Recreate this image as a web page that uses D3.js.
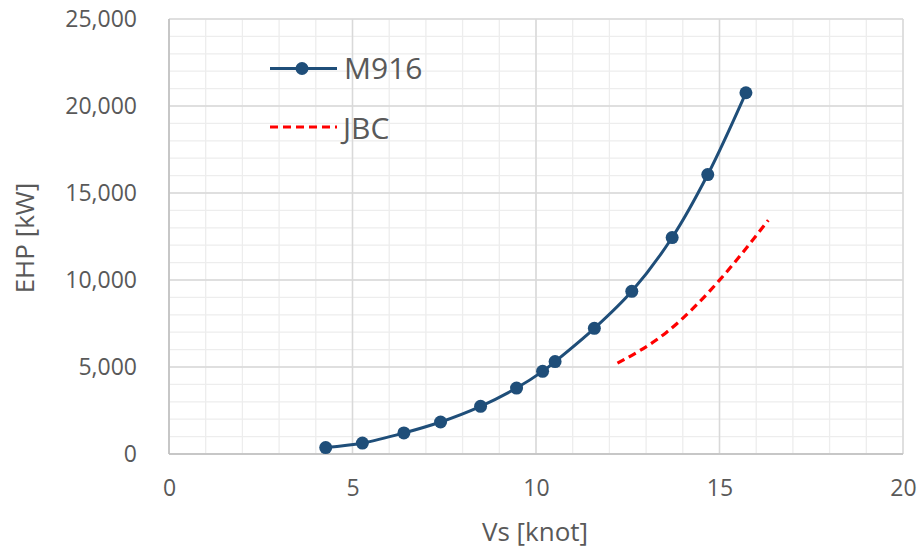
<!DOCTYPE html>
<html><head><meta charset="utf-8">
<script src="https://cdn.jsdelivr.net/npm/d3@7"></script>
<style>body{margin:0;background:#fff}svg{display:block}text{font-family:"Open Sans",sans-serif;fill:#595959}</style>
</head><body><svg id="c" width="919" height="549"></svg>
<script>
const m916Vs  = [4.27, 5.27, 6.40, 7.40, 8.49, 9.47, 10.18, 10.52, 11.59, 12.61, 13.71, 14.68, 15.72];
const m916EHP = [370, 630, 1210, 1840, 2740, 3790, 4750, 5310, 7220, 9350, 12440, 16060, 20760];
const jbcVs   = [12.22, 13.56, 15.0, 16.33];
const jbcEHP  = [5220, 7000, 9990, 13440];
const xTicks = [0, 5, 10, 15, 20];
const yTicks = [0, 5000, 10000, 15000, 20000, 25000];
const seriesNames = ["M916", "JBC"];

const svg = d3.select("#c");
const L = 169, R = 903, T = 19, B = 454;
const x = d3.scaleLinear().domain([0, 20]).range([L, R]);
const y = d3.scaleLinear().domain([0, 25000]).range([B, T]);

// minor grid
const g = svg.append("g");
g.selectAll(".mx").data(d3.range(0, 21, 1)).join("line")
  .attr("x1", d => x(d)).attr("x2", d => x(d)).attr("y1", T).attr("y2", B)
  .attr("stroke", "#ededed").attr("stroke-width", 1.3);
g.selectAll(".my").data(d3.range(0, 25001, 1000)).join("line")
  .attr("y1", d => y(d)).attr("y2", d => y(d)).attr("x1", L).attr("x2", R)
  .attr("stroke", "#ededed").attr("stroke-width", 1.3);
// major grid
g.selectAll(".Mx").data(xTicks).join("line")
  .attr("x1", d => x(d)).attr("x2", d => x(d)).attr("y1", T).attr("y2", B)
  .attr("stroke", "#d9d9d9").attr("stroke-width", 1.5);
g.selectAll(".My").data(yTicks).join("line")
  .attr("y1", d => y(d)).attr("y2", d => y(d)).attr("x1", L).attr("x2", R)
  .attr("stroke", "#d9d9d9").attr("stroke-width", 1.5);
// axis lines
g.append("line").attr("x1", L).attr("x2", L).attr("y1", T).attr("y2", B).attr("stroke", "#bfbfbf").attr("stroke-width", 1.5);
g.append("line").attr("x1", L).attr("x2", R).attr("y1", B).attr("y2", B).attr("stroke", "#bfbfbf").attr("stroke-width", 1.5);

// axes
const fmt = d3.format(",");
const xa = svg.append("g").attr("transform", `translate(0,${B})`)
  .call(d3.axisBottom(x).tickValues(xTicks).tickSize(0).tickPadding(26).tickFormat(d3.format("d")));
xa.select(".domain").remove();
xa.selectAll("text").style("font-size", "23px").attr("fill", "#595959");
const ya = svg.append("g").attr("transform", `translate(${L},0)`)
  .call(d3.axisLeft(y).tickValues(yTicks).tickSize(0).tickPadding(32).tickFormat(fmt));
ya.select(".domain").remove();
ya.selectAll("text").style("font-size", "23px").attr("fill", "#595959");

svg.append("text").attr("x", 535).attr("y", 541).attr("text-anchor", "middle")
  .style("font-size", "26px").text("Vs [knot]");
svg.append("text").attr("transform", "translate(34,238) rotate(-90)").attr("text-anchor", "middle")
  .style("font-size", "26px").text("EHP [kW]");

// series
const m916 = m916Vs.map((v, i) => [v, m916EHP[i]]);
const jbc = jbcVs.map((v, i) => [v, jbcEHP[i]]);
const line = d3.line().x(d => x(d[0])).y(d => y(d[1])).curve(d3.curveCatmullRom.alpha(0.5));
const jline = d3.line().x(d => x(d[0])).y(d => y(d[1])).curve(d3.curveNatural);
svg.append("path").attr("d", jline(jbc)).attr("fill", "none").attr("stroke", "#ff0000")
  .attr("stroke-width", 3.2).attr("stroke-dasharray", "8,5");
svg.append("path").attr("d", line(m916)).attr("fill", "none").attr("stroke", "#1f4e79")
  .attr("stroke-width", 3);
svg.selectAll(".pt").data(m916).join("circle")
  .attr("cx", d => x(d[0])).attr("cy", d => y(d[1])).attr("r", 6.5).attr("fill", "#1f4e79");

// legend
const lg = svg.append("g");
lg.append("line").attr("x1", 270).attr("x2", 337).attr("y1", 68.5).attr("y2", 68.5).attr("stroke", "#1f4e79").attr("stroke-width", 3);
lg.append("circle").attr("cx", 302).attr("cy", 68.5).attr("r", 6.5).attr("fill", "#1f4e79");
lg.append("text").attr("x", 344).attr("y", 78.5).style("font-size", "30px").text(seriesNames[0]);
lg.append("line").attr("x1", 270).attr("x2", 337).attr("y1", 127).attr("y2", 127).attr("stroke", "#ff0000").attr("stroke-width", 3.2).attr("stroke-dasharray", "8,5");
lg.append("text").attr("x", 343).attr("y", 138.5).style("font-size", "30px").text(seriesNames[1]);
</script></body></html>
